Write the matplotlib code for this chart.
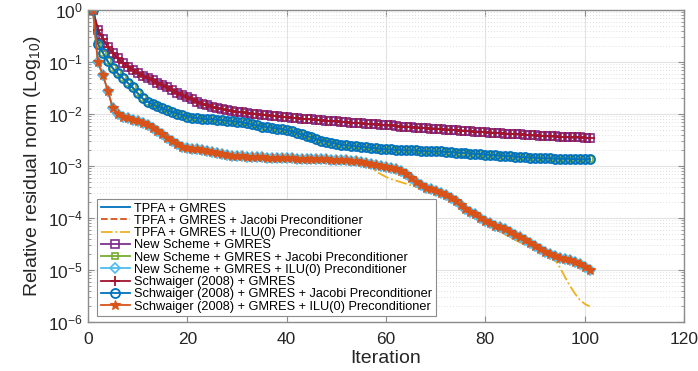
import numpy as np
import matplotlib
matplotlib.use("Agg")
import matplotlib.pyplot as plt
from matplotlib.ticker import LogLocator, NullFormatter, FixedLocator

plt.rcParams['font.family'] = ['Liberation Sans', 'DejaVu Sans']
plt.rcParams['mathtext.fontset'] = 'custom'
plt.rcParams['mathtext.rm'] = 'Liberation Sans'
plt.rcParams['mathtext.it'] = 'Liberation Sans:italic'

iterations = np.arange(1, 102)

# log10 of relative residual norm, one value per iteration
log_gmres = [
    0.00, -0.38, -0.55, -0.71, -0.82, -0.93, -1.01, -1.09, -1.15, -1.21,
    -1.26, -1.31, -1.35, -1.40, -1.44, -1.49, -1.54, -1.59, -1.64, -1.68,
    -1.72, -1.76, -1.80, -1.83, -1.86, -1.89, -1.91, -1.93, -1.95, -1.96,
    -1.97, -1.98, -1.99, -2.00, -2.01, -2.02, -2.03, -2.04, -2.05, -2.06,
    -2.07, -2.08, -2.09, -2.10, -2.10, -2.11, -2.12, -2.13, -2.14, -2.14,
    -2.15, -2.16, -2.17, -2.17, -2.18, -2.19, -2.20, -2.20, -2.21, -2.22,
    -2.22, -2.23, -2.24, -2.24, -2.25, -2.26, -2.26, -2.27, -2.28, -2.28,
    -2.29, -2.30, -2.30, -2.31, -2.32, -2.32, -2.33, -2.34, -2.34, -2.35,
    -2.36, -2.36, -2.37, -2.38, -2.38, -2.39, -2.39, -2.40, -2.41, -2.41,
    -2.42, -2.42, -2.43, -2.43, -2.44, -2.44, -2.45, -2.45, -2.45, -2.46,
    -2.46,
]

log_jacobi = [
    0.00, -0.65, -0.82, -0.99, -1.12, -1.22, -1.31, -1.40, -1.49, -1.60,
    -1.70, -1.76, -1.81, -1.85, -1.89, -1.93, -1.96, -1.99, -2.02, -2.05,
    -2.07, -2.08, -2.09, -2.10, -2.10, -2.11, -2.12, -2.13, -2.14, -2.15,
    -2.16, -2.18, -2.20, -2.22, -2.24, -2.25, -2.26, -2.28, -2.29, -2.31,
    -2.33, -2.36, -2.39, -2.42, -2.45, -2.48, -2.51, -2.53, -2.55, -2.57,
    -2.59, -2.60, -2.61, -2.62, -2.63, -2.64, -2.65, -2.66, -2.67, -2.68,
    -2.68, -2.69, -2.69, -2.70, -2.70, -2.70, -2.71, -2.71, -2.72, -2.72,
    -2.72, -2.73, -2.73, -2.74, -2.75, -2.75, -2.76, -2.77, -2.77, -2.78,
    -2.79, -2.79, -2.80, -2.81, -2.81, -2.82, -2.83, -2.83, -2.84, -2.84,
    -2.85, -2.85, -2.85, -2.86, -2.86, -2.86, -2.86, -2.87, -2.87, -2.87,
    -2.87,
]

log_ilu = [
    0.00, -1.00, -1.25, -1.55, -1.89, -1.99, -2.05, -2.08, -2.11, -2.14,
    -2.18, -2.22, -2.26, -2.32, -2.39, -2.46, -2.52, -2.58, -2.63, -2.65,
    -2.67, -2.68, -2.70, -2.71, -2.73, -2.75, -2.77, -2.79, -2.80, -2.80,
    -2.81, -2.82, -2.82, -2.83, -2.83, -2.84, -2.84, -2.84, -2.85, -2.85,
    -2.85, -2.86, -2.86, -2.86, -2.86, -2.87, -2.87, -2.87, -2.88, -2.88,
    -2.89, -2.89, -2.90, -2.91, -2.93, -2.95, -2.97, -2.98, -3.00, -3.01,
    -3.03, -3.06, -3.10, -3.16, -3.23, -3.30, -3.37, -3.42, -3.45, -3.48,
    -3.51, -3.55, -3.61, -3.68, -3.75, -3.82, -3.88, -3.93, -3.99, -4.05,
    -4.10, -4.15, -4.18, -4.22, -4.27, -4.32, -4.37, -4.42, -4.48, -4.54,
    -4.60, -4.65, -4.69, -4.73, -4.76, -4.78, -4.81, -4.84, -4.88, -4.94,
    -5.00,
]

log_tpfa_ilu = [
    0.00, -1.00, -1.25, -1.55, -1.89, -1.99, -2.05, -2.08, -2.11, -2.14,
    -2.18, -2.22, -2.26, -2.32, -2.42, -2.50, -2.58, -2.65, -2.68, -2.69,
    -2.70, -2.70, -2.71, -2.72, -2.73, -2.75, -2.77, -2.79, -2.80, -2.80,
    -2.81, -2.82, -2.82, -2.83, -2.83, -2.84, -2.84, -2.84, -2.85, -2.85,
    -2.85, -2.86, -2.86, -2.86, -2.86, -2.87, -2.87, -2.87, -2.88, -2.88,
    -2.89, -2.89, -2.90, -2.91, -2.93, -2.97, -3.04, -3.10, -3.16, -3.21,
    -3.25, -3.28, -3.31, -3.34, -3.37, -3.40, -3.43, -3.46, -3.50, -3.54,
    -3.58, -3.62, -3.66, -3.71, -3.77, -3.83, -3.89, -3.95, -4.01, -4.07,
    -4.13, -4.20, -4.26, -4.32, -4.37, -4.42, -4.47, -4.51, -4.55, -4.58,
    -4.61, -4.65, -4.70, -4.80, -4.95, -5.13, -5.30, -5.45, -5.57, -5.65,
    -5.70,
]

res_gmres = 10.0 ** np.array(log_gmres)
res_jacobi = 10.0 ** np.array(log_jacobi)
res_ilu = 10.0 ** np.array(log_ilu)
res_tpfa_ilu = 10.0 ** np.array(log_tpfa_ilu)

labels = [
    "TPFA + GMRES",
    "TPFA + GMRES + Jacobi Preconditioner",
    "TPFA + GMRES + ILU(0) Preconditioner",
    "New Scheme + GMRES",
    "New Scheme + GMRES + Jacobi Preconditioner",
    "New Scheme + GMRES + ILU(0) Preconditioner",
    "Schwaiger (2008) + GMRES",
    "Schwaiger (2008) + GMRES + Jacobi Preconditioner",
    "Schwaiger (2008) + GMRES + ILU(0) Preconditioner",
]

x_ticks = [0, 20, 40, 60, 80, 100, 120]
decades = [-6, -5, -4, -3, -2, -1, 0]

c_blue = "#0072BD"
c_orange = "#D95319"
c_yellow = "#EDB120"
c_purple = "#7E2F8E"
c_green = "#77AC30"
c_cyan = "#4DBEEE"
c_red = "#A2142F"

fig = plt.figure(figsize=(6.98, 3.71), dpi=100)
ax = fig.add_axes([0.126, 0.132, 0.854, 0.841])

lw = 1.3
ax.plot(iterations, res_gmres, '-', color=c_blue, lw=lw, label=labels[0])
ax.plot(iterations, res_jacobi, '--', color=c_orange, lw=lw, label=labels[1])
ax.plot(iterations, res_tpfa_ilu, '-.', color=c_yellow, lw=lw, label=labels[2])
ax.plot(iterations, res_gmres, '-s', color=c_purple, lw=lw, ms=5.5, mfc='none',
        mew=1.2, label=labels[3])
ax.plot(iterations, res_jacobi, '-s', color=c_green, lw=lw, ms=5.0, mfc='none',
        mew=1.2, label=labels[4])
ax.plot(iterations, res_ilu, '-D', color=c_cyan, lw=lw, ms=5.0, mfc='none',
        mew=1.2, label=labels[5])
ax.plot(iterations, res_gmres, '-+', color=c_red, lw=lw, ms=7, mew=1.3,
        label=labels[6])
ax.plot(iterations, res_jacobi, '-o', color=c_blue, lw=lw, ms=6.5, mfc='none',
        mew=1.3, label=labels[7])
ax.plot(iterations, res_ilu, '-*', color=c_orange, lw=lw, ms=7.5, mew=0.8,
        label=labels[8])

ax.set_yscale('log')
ax.set_xlim(0, 120)
ax.set_ylim(1e-6, 1)
ax.xaxis.set_major_locator(FixedLocator(x_ticks))
ax.yaxis.set_major_locator(FixedLocator([10.0 ** d for d in decades]))
minor_y = [m * 10.0 ** d for d in decades[:-1] for m in range(2, 10)]
ax.yaxis.set_minor_locator(FixedLocator(minor_y))
ax.yaxis.set_minor_formatter(NullFormatter())
ax.set_yticklabels([r"$10^{%d}$" % d for d in decades])

ax.grid(which='major', color='#E3E3E3', lw=0.8, ls='-')
ax.grid(which='minor', axis='y', color='#D5D5D5', lw=0.6, ls=(0, (1, 2.5)))
ax.set_axisbelow(True)

for s in ax.spines.values():
    s.set_color('#8C8C8C')
    s.set_linewidth(1.0)
ax.tick_params(which='both', direction='in', top=True, right=True,
               color='#8C8C8C', labelsize=12.5, labelcolor='#262626')
ax.tick_params(which='major', length=4)
ax.tick_params(which='minor', length=2)
ax.tick_params(axis='x', pad=7)

ax.set_xlabel("Iteration", fontsize=14, color='#262626', labelpad=2)
ax.set_ylabel(r"Relative residual norm (Log$_{10}$)", fontsize=14,
              color='#262626', labelpad=4)

leg = ax.legend(loc='lower left', bbox_to_anchor=(0.015, 0.018), fontsize=9.2,
                frameon=True, fancybox=False, borderaxespad=0, handlelength=2.3,
                labelspacing=0.02, borderpad=0.3, handletextpad=0.3)
leg.get_frame().set_edgecolor('#8C8C8C')
leg.get_frame().set_linewidth(0.8)
leg.get_frame().set_alpha(1)

fig.savefig("out.png", dpi=100)
